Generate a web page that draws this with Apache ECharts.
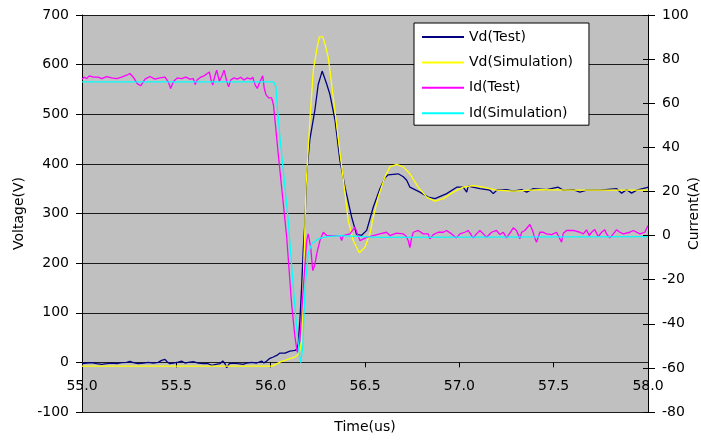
<!DOCTYPE html>
<html><head><meta charset="utf-8">
<script src="https://cdn.jsdelivr.net/npm/echarts@6/dist/echarts.min.js"></script>
<style>html,body{margin:0;padding:0;background:#fff}#c{width:701px;height:440px}</style>
</head><body><div id="c"></div>
<script>
// Vd(Test) — time (us) and voltage (V)
var vdTestT = [55.000,55.007,55.025,55.051,55.078,55.104,55.131,55.157,55.184,55.210,55.237,55.254,55.272,55.298,55.325,55.351,55.378,55.404,55.422,55.440,55.452,55.466,55.484,55.510,55.528,55.546,55.563,55.590,55.616,55.643,55.669,55.687,55.696,55.710,55.731,55.746,55.758,55.767,55.781,55.802,55.828,55.855,55.873,55.899,55.926,55.952,55.964,55.979,55.993,56.014,56.032,56.049,56.076,56.102,56.129,56.141,56.146,56.155,56.164,56.173,56.182,56.191,56.208,56.235,56.252,56.273,56.283,56.296,56.314,56.341,56.367,56.394,56.429,56.455,56.482,56.509,56.544,56.579,56.606,56.623,56.676,56.703,56.721,56.738,56.791,56.835,56.871,56.933,56.986,57.021,57.039,57.047,57.109,57.162,57.180,57.198,57.251,57.286,57.330,57.357,57.392,57.463,57.524,57.551,57.604,57.639,57.675,57.745,57.834,57.860,57.887,57.913,57.940,57.993,58.000];
var vdTestV = [-2.7,-2.7,-1.3,-0.7,-2.7,-4,-2.7,-1.3,-2.7,-0.7,0,2,-0.7,-2.7,-1.3,0,-1.3,0,4,6,0.7,-2.7,-1.3,0.7,2.7,-1.3,0,1.3,-1.3,-2.7,-2.7,-6,-9.4,-4,-2.7,2.7,-2.7,-10.8,-2.7,-1.3,-2.7,-4,-1.3,0,-1.3,2.7,-1.3,2.7,7.4,10.8,14,18.8,18.8,22.8,24,28,40,85,152,230,286,380,450,510,560,587,585,562,540,488,407,353,293,258,256,266,313,350,372,378,380,374,367,353,343,333,330,340,353,353,343,355,350,347,340,347,348,345,348,343,350,348,353,347,348,343,347,347,350,341,348,341,347,352,353];

// Vd(Simulation)
var vdSimT = [55.000,56.010,56.049,56.102,56.129,56.146,56.155,56.164,56.173,56.187,56.208,56.226,56.247,56.258,56.267,56.276,56.288,56.305,56.341,56.367,56.394,56.411,56.438,56.470,56.500,56.526,56.544,56.570,56.606,56.632,56.668,56.703,56.738,56.782,56.827,56.871,56.915,56.968,57.021,57.074,57.127,57.198,57.286,57.427,57.604,57.798,58.000];
var vdSimV = [-7.5,-7.5,0.6,7.5,10.7,16,24,44,152,353,488,589,636,656,658,656,642,615,506,423,341,286,245,221,232,259,293,333,374,394,399,394,380,353,333,325,330,343,353,356,353,347,345,348,347,347,347];

// Id(Test) — current (A)
var idTestT = [55.000,55.011,55.025,55.039,55.060,55.086,55.104,55.131,55.157,55.184,55.210,55.237,55.254,55.272,55.293,55.311,55.334,55.360,55.387,55.413,55.440,55.457,55.470,55.484,55.505,55.528,55.551,55.572,55.590,55.600,55.611,55.629,55.647,55.664,55.675,55.684,55.693,55.703,55.714,55.728,55.740,55.753,55.767,55.777,55.788,55.806,55.823,55.841,55.859,55.876,55.894,55.905,55.918,55.929,55.943,55.958,55.966,55.975,55.989,56.005,56.015,56.023,56.040,56.058,56.085,56.111,56.129,56.141,56.155,56.173,56.191,56.199,56.212,56.223,56.233,56.244,56.261,56.279,56.297,56.332,56.367,56.376,56.385,56.420,56.447,56.473,56.509,56.544,56.579,56.614,56.632,56.667,56.703,56.720,56.729,56.738,56.747,56.756,56.782,56.809,56.835,56.844,56.862,56.888,56.915,56.932,56.959,56.985,57.003,57.029,57.047,57.065,57.074,57.091,57.109,57.127,57.144,57.171,57.197,57.215,57.233,57.250,57.268,57.286,57.303,57.321,57.330,57.347,57.374,57.388,57.400,57.409,57.427,57.445,57.462,57.489,57.515,57.533,57.542,57.551,57.568,57.604,57.639,57.657,57.674,57.688,57.701,57.718,57.736,57.754,57.771,57.780,57.798,57.816,57.833,57.851,57.869,57.904,57.922,57.957,57.983,58.000];
var idTestV = [70.9,71.8,71.2,72.4,71.8,71.8,71.2,72.1,71.5,71.2,71.8,72.7,73.5,71.8,68.9,67.9,70.9,72.1,70.9,71.5,71.8,69.7,66.7,69.7,71.5,71.2,71.8,70.9,71.2,68.5,70.6,71.8,72.4,73.5,74.2,70.5,68.2,72,75,70,72,75,70,67.4,70.5,71.5,70.9,71.8,70.5,71.5,70.9,71.8,68.2,66.7,69.7,72.4,66.7,63.9,62.4,62.4,59.1,52.3,37.1,22,-0.8,-31,-46.2,-53,-47.7,-23.5,-2.3,0.8,-5.3,-15.9,-13.6,-8.3,-2.3,1.5,0,0,0,-2.3,0,0.8,3.8,-2.3,-0.8,0,0.8,1.5,0,1.06,0.76,-0.45,-2.3,-5.5,-1.06,1.5,2.3,0.76,0.76,-1.5,0.45,1.5,1.5,2.3,0.76,-1.06,0.76,1.5,2.3,0,-1.06,0.76,2.3,0.76,-0.76,1.5,2.3,0.45,1.5,-1.06,1.06,3.5,2.3,-1.5,1.5,2.3,5,2.3,-1.06,-3,1.5,1.5,0.76,0.45,1.5,-1.5,-3,1.06,2.3,2.3,1.5,0.76,2.6,0,1.5,2.7,-0.45,1.5,2.6,0.76,-1.06,0.76,2.6,1.5,0.76,1.5,2.3,0.76,1.5,4.5];

// Id(Simulation)
var idSimT = [55.000,56.015,56.021,56.028,56.035,56.049,56.067,56.093,56.120,56.138,56.152,56.159,56.170,56.182,56.199,56.217,56.252,56.297,56.367,56.579,58.000];
var idSimV = [69.7,69.7,69.3,67.4,58.3,44.7,29.5,6.8,-23.5,-41.7,-53.8,-57.6,-50.8,-23.5,-8.3,-3.8,-1.5,-0.45,0,-0.8,-0.45];

var seriesNames = ['Vd(Test)', 'Vd(Simulation)', 'Id(Test)', 'Id(Simulation)'];
var xTicks = [55.0, 55.5, 56.0, 56.5, 57.0, 57.5, 58.0];

function zip(t, v) { return t.map(function (x, i) { return [x, v[i]]; }); }

var FONT = 'DejaVu Sans, Liberation Sans, Arial, sans-serif';
var GRID_TOP = 15, GRID_H = 397, VMIN = -100, VMAX = 700;
// place the time axis where the voltage axis reads 0
var xOffset = -GRID_H * (0 - VMIN) / (VMAX - VMIN);

var chart = echarts.init(document.getElementById('c'), null, { renderer: 'canvas' });
chart.setOption({
  animation: false,
  textStyle: { fontFamily: FONT },
  grid: { left: 82, top: GRID_TOP, width: 566, height: GRID_H, show: true, backgroundColor: '#c0c0c0', borderWidth: 0, outerBoundsMode: 'none', containLabel: false },
  legend: {
    data: seriesNames, orient: 'vertical', left: 414, top: 23,
    backgroundColor: '#ffffff', borderColor: '#000', borderWidth: 1,
    padding: [7, 16, 5, 7], itemWidth: 42, itemHeight: 14, itemGap: 11.4,
    itemStyle: { opacity: 0 },
    textStyle: { fontSize: 14, color: '#000', fontFamily: FONT }
  },
  xAxis: {
    type: 'value', position: 'bottom', offset: xOffset,
    min: xTicks[0], max: xTicks[xTicks.length - 1], interval: 0.5,
    name: 'Time(us)', nameLocation: 'middle', nameGap: 58,
    nameTextStyle: { fontSize: 14, color: '#000', fontFamily: FONT },
    axisLine: { show: true, onZero: false, lineStyle: { color: '#222', width: 1 } },
    axisTick: { show: true, length: 5, lineStyle: { color: '#000' } },
    axisLabel: { fontSize: 14, color: '#000', margin: 17, formatter: function (v) { return v.toFixed(1); } },
    splitLine: { show: false }
  },
  yAxis: [{
    type: 'value', position: 'left', min: VMIN, max: VMAX, interval: 100,
    name: 'Voltage(V)', nameLocation: 'middle', nameGap: 56, nameRotate: 90,
    nameTextStyle: { fontSize: 14, color: '#000', fontFamily: FONT },
    axisLine: { show: true, onZero: false, lineStyle: { color: '#000', width: 1 } },
    axisTick: { show: true, length: 6, lineStyle: { color: '#000' } },
    axisLabel: { fontSize: 14, color: '#000', margin: 13 },
    splitLine: { show: true, lineStyle: { color: '#1a1a1a', width: 1 } }
  }, {
    type: 'value', position: 'right', min: -80, max: 100, interval: 20,
    name: 'Current(A)', nameLocation: 'middle', nameGap: 39, nameRotate: 90, nameMoveOverlap: false,
    nameTextStyle: { fontSize: 14, color: '#000', fontFamily: FONT },
    axisLine: { show: true, onZero: false, lineStyle: { color: '#000', width: 1 } },
    axisTick: { show: true, length: 7, lineStyle: { color: '#000' } },
    axisLabel: { fontSize: 14, color: '#000', margin: 14 },
    splitLine: { show: false }
  }, {
    type: 'value', position: 'right', min: -80, max: 100, interval: 20,
    axisLine: { show: false, onZero: false },
    axisTick: { show: true, inside: true, length: 5, lineStyle: { color: '#000' } },
    axisLabel: { show: false }, splitLine: { show: false }
  }],
  series: [
    { name: seriesNames[0], type: 'line', yAxisIndex: 0, symbol: 'none', data: zip(vdTestT, vdTestV), lineStyle: { color: '#000080', width: 1.3 }, itemStyle: { color: '#000080' } },
    { name: seriesNames[1], type: 'line', yAxisIndex: 0, symbol: 'none', data: zip(vdSimT, vdSimV), lineStyle: { color: '#ffff00', width: 1.3 }, itemStyle: { color: '#ffff00' } },
    { name: seriesNames[2], type: 'line', yAxisIndex: 1, symbol: 'none', data: zip(idTestT, idTestV), lineStyle: { color: '#ff00ff', width: 1.3 }, itemStyle: { color: '#ff00ff' } },
    { name: seriesNames[3], type: 'line', yAxisIndex: 1, symbol: 'none', data: zip(idSimT, idSimV), lineStyle: { color: '#00ffff', width: 1.3 }, itemStyle: { color: '#00ffff' } }
  ]
});
</script></body></html>
